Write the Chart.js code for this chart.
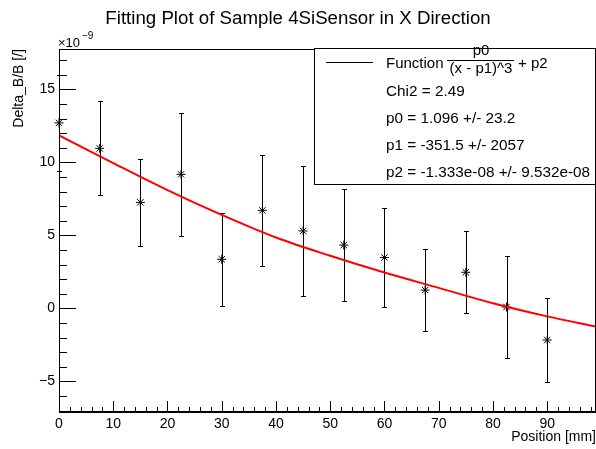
<!DOCTYPE html>
<html>
<head>
<meta charset="utf-8">
<script src="https://cdn.jsdelivr.net/npm/chart.js@4"></script>
<style>
  html, body { margin: 0; padding: 0; background: #fff; }
  #wrap { width: 596px; height: 449px; }
</style>
</head>
<body>
<div id="wrap"><canvas id="myChart"></canvas></div>
<script>
// measured points, y in units of 1e-9
var xPos = [0, 7.5, 15, 22.5, 30, 37.5, 45, 52.5, 60, 67.5, 75, 82.5, 90];
var yVal = [12.7, 10.96, 7.26, 9.18, 3.36, 6.71, 5.3, 4.33, 3.48, 1.25, 2.47, 0.09, -2.17];
var yErr = [3.3, 3.21, 2.96, 4.2, 3.2, 3.8, 4.43, 3.85, 3.39, 2.8, 2.8, 3.5, 2.87];

// fitted curve
var fitX = [0, 10, 20, 30, 40, 50, 60, 70, 80, 90, 99];
var fitY = [11.85, 9.95, 8.1, 6.4, 4.85, 3.6, 2.45, 1.4, 0.35, -0.55, -1.25];

var xTicks = [0, 10, 20, 30, 40, 50, 60, 70, 80, 90];
var yTicks = [-5, 0, 5, 10, 15];

var legendLines = ["Chi2 = 2.49", "p0 = 1.096 +/- 23.2", "p1 = -351.5 +/- 2057", "p2 = -1.333e-08 +/- 9.532e-08"];

var FONT = '"Liberation Sans", Arial, Helvetica, sans-serif';
Chart.defaults.font.family = FONT;
Chart.defaults.color = "#000";

var points = xPos.map(function (x, i) { return {x: x, y: yVal[i]}; });
var fit = fitX.map(function (x, i) { return {x: x, y: fitY[i]}; });

// ROOT-like frame, inward ticks, error bars and the stats box
var rootStyle = {
  id: "rootStyle",
  beforeDatasetsDraw: function (chart) {
    var ctx = chart.ctx, xs = chart.scales.x, ys = chart.scales.y;
    ctx.save();
    ctx.strokeStyle = "#000";
    ctx.lineWidth = 1;
    for (var i = 0; i < xPos.length; i++) {
      var px = Math.round(xs.getPixelForValue(xPos[i])) + 0.5;
      var top = Math.round(ys.getPixelForValue(yVal[i] + yErr[i])) + 0.5;
      var bot = Math.round(ys.getPixelForValue(yVal[i] - yErr[i])) + 0.5;
      ctx.beginPath();
      ctx.moveTo(px, top); ctx.lineTo(px, bot);
      ctx.moveTo(px - 2.5, top); ctx.lineTo(px + 2.5, top);
      ctx.moveTo(px - 2.5, bot); ctx.lineTo(px + 2.5, bot);
      ctx.stroke();
    }
    ctx.restore();
  },
  afterDraw: function (chart) {
    var ctx = chart.ctx, xs = chart.scales.x, ys = chart.scales.y, a = chart.chartArea;
    ctx.save();
    ctx.strokeStyle = "#000";
    ctx.lineWidth = 1;
    // frame
    ctx.strokeRect(Math.round(a.left) + 0.5, Math.round(a.top) + 0.5,
      Math.round(a.right - a.left) - 1, Math.round(a.bottom - a.top) - 1);
    // ticks
    ctx.beginPath();
    var v, p, len;
    for (v = -7; v <= 17; v++) {
      p = Math.round(ys.getPixelForValue(v)) + 0.5;
      len = (v % 5 === 0) ? 17 : 8;
      ctx.moveTo(a.left, p); ctx.lineTo(a.left + len, p);
    }
    for (v = 0; v <= 98; v += 2) {
      p = Math.round(xs.getPixelForValue(v)) + 0.5;
      len = (v % 10 === 0) ? 11 : 5;
      ctx.moveTo(p, a.bottom); ctx.lineTo(p, a.bottom - len);
    }
    ctx.stroke();

    // exponent
    ctx.fillStyle = "#000";
    ctx.textBaseline = "alphabetic";
    ctx.textAlign = "left";
    ctx.font = "13px " + FONT;
    ctx.fillText("\u00d710", 58, 46.5);
    ctx.font = "10px " + FONT;
    ctx.fillText("\u22129", 82, 38.5);

    // stats box
    ctx.fillStyle = "#fff";
    ctx.fillRect(314.5, 48.5, 281, 136);
    ctx.strokeRect(314.5, 48.5, 281, 136);
    ctx.beginPath();
    ctx.moveTo(326, 62.5); ctx.lineTo(373, 62.5);
    ctx.stroke();
    ctx.fillStyle = "#000";
    ctx.font = "15px " + FONT;
    ctx.textBaseline = "middle";
    ctx.fillText("Function", 386, 64);
    ctx.textAlign = "center";
    ctx.fillText("p0", 481, 51);
    ctx.fillText("(x - p1)^3", 481, 69);
    ctx.beginPath();
    ctx.moveTo(447, 60.5); ctx.lineTo(514, 60.5);
    ctx.stroke();
    ctx.textAlign = "left";
    ctx.fillText("+ p2", 518, 64);
    ctx.font = "15.3px " + FONT;
    for (var k = 0; k < legendLines.length; k++) {
      ctx.fillText(legendLines[k], 386, 92 + k * 26.8);
    }
    ctx.restore();
  }
};

new Chart("myChart", {
  type: "scatter",
  data: {
    datasets: [{
      data: fit,
      showLine: true,
      borderColor: "#ff0000",
      borderWidth: 2,
      cubicInterpolationMode: "monotone",
      pointRadius: 0,
      order: 0
    }, {
      data: points,
      pointStyle: "star",
      pointRadius: 4.5,
      borderColor: "#000",
      backgroundColor: "#000",
      pointBorderWidth: 1,
      clip: false,
      order: 1
    }]
  },
  options: {
    responsive: true,
    maintainAspectRatio: false,
    animation: false,
    layout: {padding: 0, autoPadding: false},
    plugins: {
      legend: {display: false},
      tooltip: {enabled: false},
      title: {
        display: true,
        text: "Fitting Plot of Sample 4SiSensor in X Direction",
        color: "#000",
        font: {size: 18.7, weight: "normal"},
        padding: {top: 7.3, bottom: 19.3}
      }
    },
    scales: {
      x: {
        type: "linear",
        min: 0,
        max: 99,
        grid: {display: false, drawTicks: false},
        border: {color: "#000", width: 1},
        ticks: {font: {size: 14}, color: "#000", padding: 4, maxRotation: 0},
        afterBuildTicks: function (s) { s.ticks = xTicks.map(function (t) { return {value: t}; }); },
        afterFit: function (s) { s.height = 37; s.paddingLeft = 0; s.paddingRight = 0; },
        title: {display: true, text: "Position [mm]", align: "end", font: {size: 14}, color: "#000", padding: {top: 0, bottom: 3}}
      },
      y: {
        type: "linear",
        min: -7.1,
        max: 17.76,
        grid: {display: false, drawTicks: false},
        border: {color: "#000", width: 1},
        ticks: {
          font: {size: 14}, color: "#000", padding: 4,
          callback: function (v) { return v < 0 ? "\u2212" + (-v) : String(v); }
        },
        afterBuildTicks: function (s) { s.ticks = yTicks.map(function (t) { return {value: t}; }); },
        afterFit: function (s) { s.width = 59; s.paddingTop = 0; s.paddingBottom = 0; },
        title: {display: true, text: "Delta_B/B [/]", align: "end", font: {size: 14}, color: "#000", padding: {top: 10.6, bottom: 0}}
      }
    }
  },
  plugins: [rootStyle]
});
</script>
</body>
</html>
